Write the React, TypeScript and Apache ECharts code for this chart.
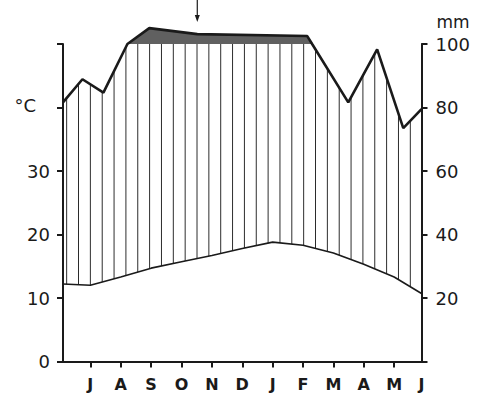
import React, { useEffect, useRef } from 'react';
import * as echarts from 'echarts';

// Month labels (southern-hemisphere year, July to June) and their positions (months from first tick)
const monthLabels = ['J', 'A', 'S', 'O', 'N', 'D', 'J', 'F', 'M', 'A', 'M', 'J'];
const monthPos = [0, 1, 2, 3, 4, 5, 6, 7, 8, 9, 10, 10.9];

// Mean monthly temperature (°C)
const tempX = [-0.9, 0, 1, 2, 3, 4, 5, 6, 7, 8, 9, 10, 10.9];
const tempC = [12.2, 12.0, 13.3, 14.7, 15.7, 16.7, 17.8, 18.8, 18.3, 17.1, 15.3, 13.3, 10.7];

// Precipitation (mm); above 100 mm the scale is reduced 1:10
const precipX = [-0.9, -0.26, 0.43, 1.22, 1.94, 3.52, 7.14, 7.3, 8.49, 9.44, 10.3, 10.9];
const precipMm = [81.6, 88.9, 84.7, 100, 150, 131, 125, 100, 81.6, 98.3, 73.5, 79.5];

const tempTicks = [0, 10, 20, 30, 40, 50];
const precipTicks = [0, 20, 40, 60, 80, 100];
const arrowX = 3.52;

const FONT = 'DejaVu Sans';
const INK = '#1a1a1a';

const toDisplay = (v: number) => (v <= 100 ? v : 100 + (v - 100) / 10);

export default function App() {
  const ref = useRef<HTMLDivElement>(null);
  useEffect(() => {
    if (!ref.current) return;
    const chart = echarts.init(ref.current, undefined, { renderer: 'svg' });

    const c = document.createElement('canvas');
    c.width = 12;
    c.height = 4;
    const ctx = c.getContext('2d')!;
    ctx.fillStyle = '#ffffff';
    ctx.fillRect(0, 0, 12, 4);
    ctx.fillStyle = '#2a2a2a';
    ctx.fillRect(7, 0, 1, 4);
    const hatch: any = { image: c, repeat: 'repeat', scaleX: 11.85 / 12 };

    const precipDisp = precipMm.map(toDisplay);
    const precipData = precipX.map((x, i) => [x, precipDisp[i]]);
    const hatchData = precipX.map((x, i) => [x, Math.min(precipDisp[i], 100)]);
    const tempData = tempX.map((x, i) => [x, tempC[i]]);

    const axisLine = { show: true, onZero: false, lineStyle: { color: INK, width: 2 } };
    const axisTick = { show: true, length: 6, lineStyle: { color: INK, width: 2 } };

    chart.setOption({
      animation: false,
      backgroundColor: '#ffffff',
      grid: { left: 63, top: 44, width: 358.5, height: 317.5, containLabel: false, outerBoundsMode: 'none' },
      xAxis: {
        type: 'value',
        min: -0.9,
        max: 10.9,
        z: 10,
        axisLine,
        axisTick: { ...axisTick, customValues: monthPos.slice(0, 11) },
        splitLine: { show: false },
        axisLabel: {
          customValues: monthPos,
          margin: 15,
          color: INK,
          fontFamily: FONT,
          fontWeight: 'bold',
          fontSize: 16,
          formatter: (v: number) => {
            const i = monthPos.findIndex((p) => Math.abs(p - v) < 1e-6);
            return i >= 0 ? monthLabels[i] : '';
          },
        },
      },
      yAxis: [
        {
          type: 'value',
          min: tempTicks[0],
          max: tempTicks[tempTicks.length - 1],
          interval: 10,
          z: 10,
          axisLine,
          axisTick,
          splitLine: { show: false },
          axisLabel: {
            margin: 13,
            color: INK,
            fontFamily: FONT,
            fontSize: 18,
            formatter: (v: number) => (v === 40 ? '{u|°C}' : v === 50 ? '' : String(v)),
            rich: { u: { fontFamily: FONT, fontSize: 18, color: INK, padding: [0, 14, 4, 0] } },
          },
        },
        {
          type: 'value',
          position: 'right',
          min: precipTicks[0],
          max: precipTicks[precipTicks.length - 1],
          interval: 20,
          z: 10,
          name: 'mm',
          nameLocation: 'end',
          nameGap: 22,
          nameTextStyle: { color: INK, fontFamily: FONT, fontSize: 17, align: 'left', verticalAlign: 'middle', padding: [0, 0, 0, 15] },
          axisLine,
          axisTick,
          splitLine: { show: false },
          axisLabel: {
            margin: 14,
            color: INK,
            fontFamily: FONT,
            fontSize: 18,
            formatter: (v: number) => (v === 0 ? '' : String(v)),
          },
        },
      ],
      series: [
        {
          name: 'excess',
          type: 'line',
          yAxisIndex: 1,
          data: precipData,
          showSymbol: false,
          clip: false,
          silent: true,
          z: 1,
          lineStyle: { width: 0 },
          areaStyle: { color: '#606060', opacity: 1 },
        },
        {
          name: 'humid',
          type: 'line',
          yAxisIndex: 1,
          data: hatchData,
          showSymbol: false,
          clip: false,
          silent: true,
          z: 2,
          lineStyle: { width: 0 },
          areaStyle: { color: hatch, opacity: 1 },
        },
        {
          name: 'temperature',
          type: 'line',
          yAxisIndex: 0,
          data: tempData,
          showSymbol: false,
          clip: false,
          silent: true,
          z: 3,
          lineStyle: { width: 1.6, color: INK },
          areaStyle: { color: '#ffffff', opacity: 1 },
        },
        {
          name: 'precipitation',
          type: 'line',
          yAxisIndex: 1,
          data: precipData,
          showSymbol: false,
          clip: false,
          silent: true,
          z: 4,
          lineStyle: { width: 2.6, color: INK },
        },
      ],
    });

    const p = chart.convertToPixel({ gridIndex: 0 } as any, [arrowX, 0]) as number[];
    const ax = p[0];
    chart.setOption({
      graphic: [
        { type: 'line', shape: { x1: ax, y1: 0, x2: ax, y2: 18 }, style: { stroke: INK, lineWidth: 1.2 }, z: 20 },
        { type: 'polygon', shape: { points: [[ax - 2.5, 15], [ax + 2.5, 15], [ax, 22]] }, style: { fill: INK }, z: 20 },
      ],
    });

    return () => chart.dispose();
  }, []);
  return <div ref={ref} style={{ position: 'fixed', left: 0, top: 0, width: 482, height: 394 }} />;
}
